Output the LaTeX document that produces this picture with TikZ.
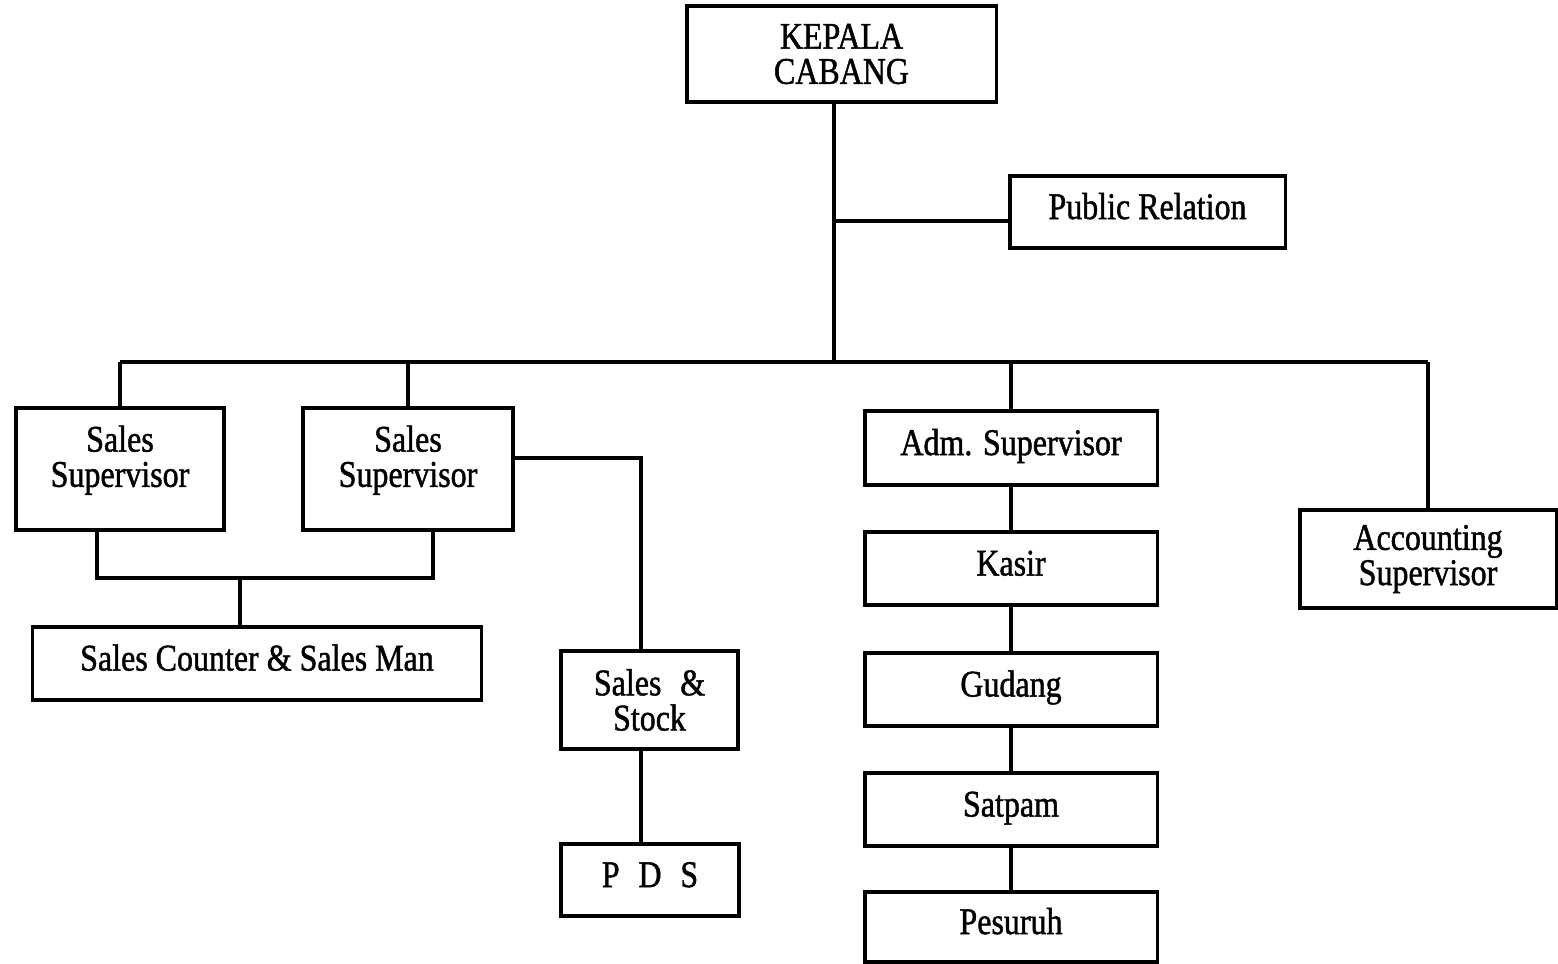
\documentclass[tikz,border=0pt]{standalone}
\usepackage{fontspec}
\setmainfont[FakeStretch=0.85,FakeBold=1.2]{Liberation Serif}
\usepackage{tikz}
\usetikzlibrary{positioning}

\tikzset{
  unit/.style={draw, line width=0.9pt, align=center, inner sep=2pt,
    font=\fontsize{10.7}{10}\selectfont},
  solo/.style={unit, text height=8pt, text depth=4pt},
  link/.style={line width=0.9pt}
}

\begin{document}
\begin{tikzpicture}[x=0.01cm, y=-0.01cm]
    \useasboundingbox (0,0) rectangle (1558,964);
    % Top
    \node[unit, minimum width=3.09cm, minimum height=0.96cm] (kepala) at (841.5,54) {KEPALA\\CABANG};
    \node[solo, minimum width=2.75cm, minimum height=0.72cm] (pr) at (1147.5,212) {Public Relation};
    % Sales side
    \node[unit, text depth=7.3pt, minimum width=2.08cm, minimum height=1.22cm] (ss1) at (120,469) {Sales\\Supervisor};
    \node[unit, text depth=7.3pt, minimum width=2.10cm, minimum height=1.22cm] (ss2) at (408,469) {Sales\\Supervisor};
    \node[solo, minimum width=4.48cm, minimum height=0.73cm] (counter) at (257,663.5) {Sales Counter \& Sales Man};
    \node[unit, minimum width=1.77cm, minimum height=0.98cm] (stock) at (649.5,700) {Sales\enspace\&\\Stock};
    \node[solo, minimum width=1.78cm, minimum height=0.72cm] (pds) at (650,880) {P\enspace D\enspace S};
    % Administration
    \node[solo, minimum width=2.92cm, minimum height=0.74cm] (adm) at (1011,448) {Adm. Supervisor};
    \node[solo, minimum width=2.92cm, minimum height=0.73cm] (kasir) at (1011,568.5) {Kasir};
    \node[solo, minimum width=2.92cm, minimum height=0.73cm] (gudang) at (1011,689.5) {Gudang};
    \node[solo, minimum width=2.92cm, minimum height=0.73cm] (satpam) at (1011,809.5) {Satpam};
    \node[solo, minimum width=2.92cm, minimum height=0.70cm] (pesuruh) at (1011,927) {Pesuruh};
    % Accounting
    \node[unit, minimum width=2.56cm, minimum height=0.98cm] (acc) at (1428,559) {Accounting\\Supervisor};

    % Connectors
    \coordinate (bus) at (834,362);
    \coordinate (prj) at (834,221);
    \draw[link] (kepala.south -| bus) -- (bus);
    \draw[link] (prj) -- (pr.west |- prj);
    \draw[link] (ss1.north |- bus) -- (acc.north |- bus);
    \foreach \n in {ss1,ss2,adm,acc}{
      \draw[link] (\n.north |- bus) -- (\n.north);
    }
    \coordinate (j1) at (97,578);
    \coordinate (j2) at (433,578);
    \coordinate (jn) at (240,578);
    \draw[link] (j1 |- ss1.south) -- (j1) -- (j2) -- (j2 |- ss2.south);
    \draw[link] (jn) -- (jn |- counter.north);
    \coordinate (sk) at (641,458);
    \draw[link] (sk -| ss2.east) -- (sk) -- (sk |- stock.north);
    \draw[link] (sk |- stock.south) -- (sk |- pds.north);
    \draw[link] (adm) -- (kasir) -- (gudang) -- (satpam) -- (pesuruh);
\end{tikzpicture}
\end{document}
